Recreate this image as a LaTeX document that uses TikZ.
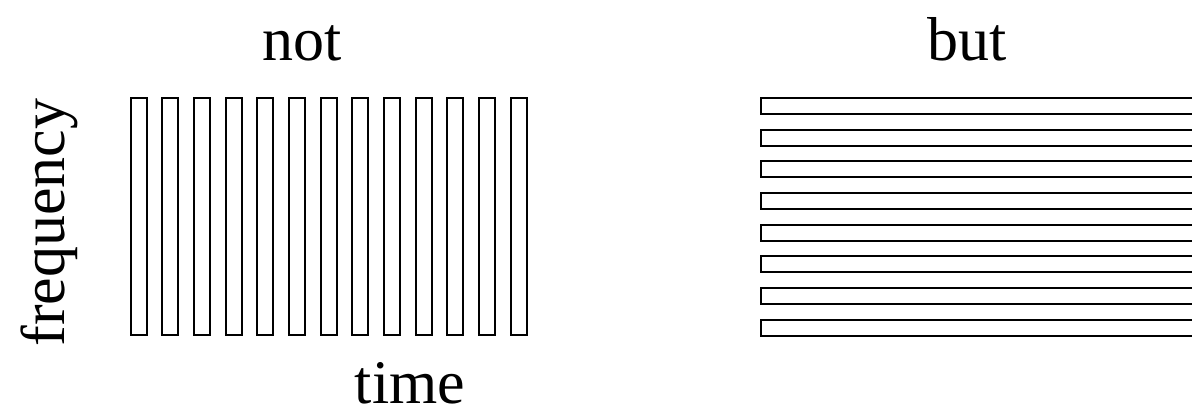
\documentclass[tikz,border=0pt]{standalone}
\usepackage{fontspec}
\setmainfont{Liberation Serif}
\begin{document}
\begin{tikzpicture}[x=1pt,y=-1pt,
  bar/.style={draw=black,line width=2pt,fill=white},
  lbl/.style={font=\fontsize{62}{70}\selectfont,anchor=base,inner sep=0pt}]
\useasboundingbox (0,0) rectangle (1192,412);
\begin{scope}
\clip (0,0) rectangle (1192,412);
\foreach \i in {0,...,12}{
  \draw[bar] ({130.5+31.67*\i},98) rectangle ({146.5+31.67*\i},334.5);
}
\foreach \j in {0,...,7}{
  \draw[bar] (760.5,{98+31.67*\j}) rectangle (1200,{114+31.67*\j});
}
\end{scope}
\node[lbl] (not) at (301.7,61) {not};
\node[lbl] (but) at (967.5,61) {but};
\node[lbl] (time) at (410,403.5) {time};
\node[lbl,rotate=90] (freq) at (64,222.5) {frequency};
\end{tikzpicture}
\end{document}
